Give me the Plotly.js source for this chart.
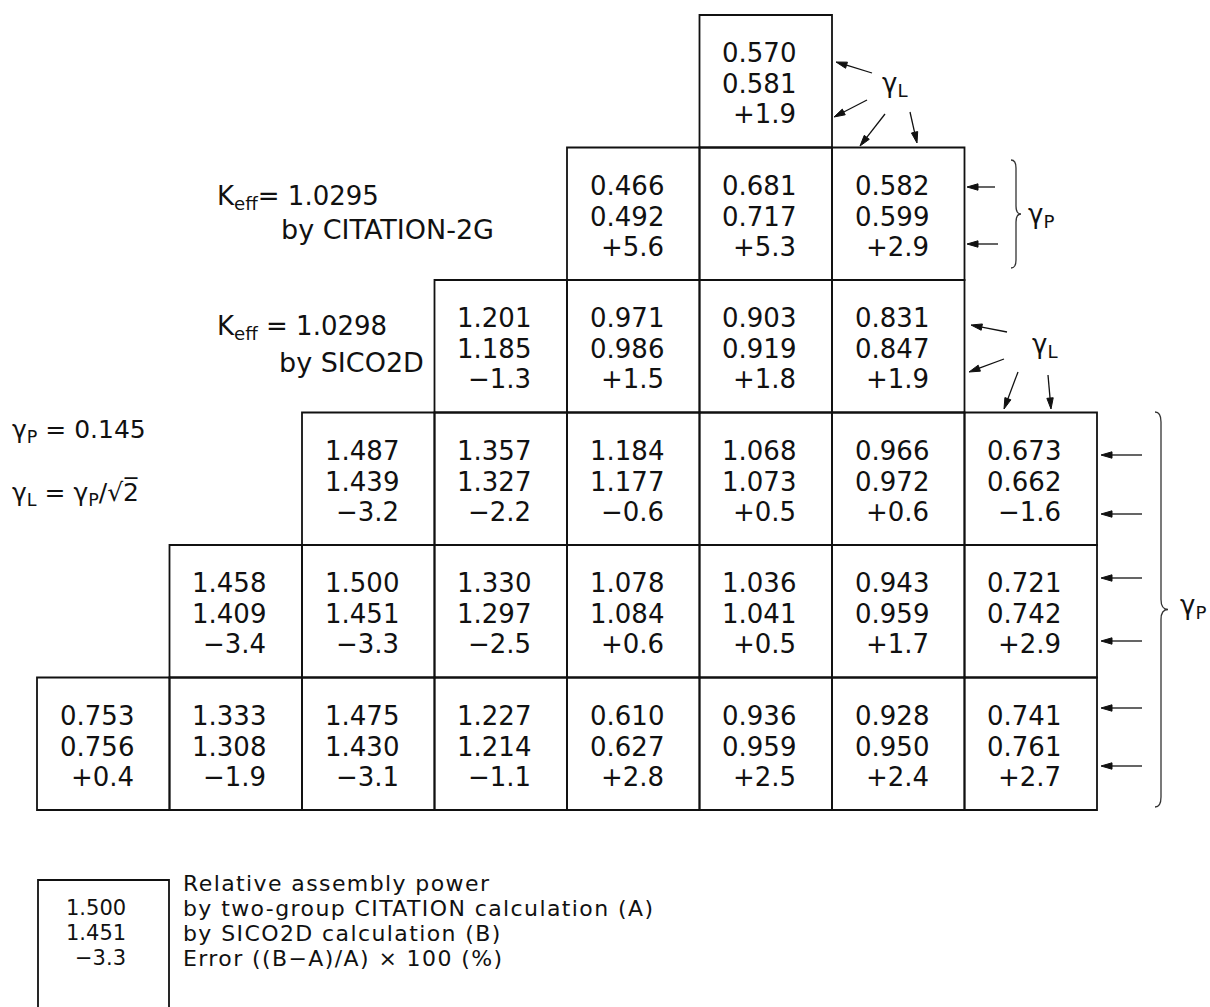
<!DOCTYPE html>
<html>
<head>
<meta charset="utf-8">
<script src="https://cdn.plot.ly/plotly-3.0.1.min.js"></script>
<style>html,body{margin:0;padding:0;background:#fff;}#chart{width:1210px;height:1007px;}</style>
</head>
<body>
<div id="chart"></div>
<script>
// ---------- data ----------
// first column occupied by each row of the quarter-core map (row 0 = top)
const rowStartCol = [5, 4, 3, 2, 1, 0];
// relative assembly power by two-group CITATION (A)
const citation = [
  [0.570],
  [0.466, 0.681, 0.582],
  [1.201, 0.971, 0.903, 0.831],
  [1.487, 1.357, 1.184, 1.068, 0.966, 0.673],
  [1.458, 1.500, 1.330, 1.078, 1.036, 0.943, 0.721],
  [0.753, 1.333, 1.475, 1.227, 0.610, 0.936, 0.928, 0.741]
];
// relative assembly power by SICO2D (B)
const sico2d = [
  [0.581],
  [0.492, 0.717, 0.599],
  [1.185, 0.986, 0.919, 0.847],
  [1.439, 1.327, 1.177, 1.073, 0.972, 0.662],
  [1.409, 1.451, 1.297, 1.084, 1.041, 0.959, 0.742],
  [0.756, 1.308, 1.430, 1.214, 0.627, 0.959, 0.950, 0.761]
];
// error ((B-A)/A) x 100 (%)
const errorPct = [
  [1.9],
  [5.6, 5.3, 2.9],
  [-1.3, 1.5, 1.8, 1.9],
  [-3.2, -2.2, -0.6, 0.5, 0.6, -1.6],
  [-3.4, -3.3, -2.5, 0.6, 0.5, 1.7, 2.9],
  [0.4, -1.9, -3.1, -1.1, 2.8, 2.5, 2.4, 2.7]
];
const keffCitation = 1.0295;
const keffSico = 1.0298;
const gammaP = 0.145;
const legendValues = [1.500, 1.451, -3.3];
const legendLines = [
  "Relative assembly power",
  "by two-group CITATION calculation (A)",
  "by SICO2D calculation (B)",
  "Error ((B\u2212A)/A) \u00d7 100 (%)"
];

// ---------- layout helpers ----------
const W = 1210, H = 1007;
const gridLeft = 37, gridTop = 15, cell = 132.5;
const lineOff = [38, 69, 99];
const rightPad = 34;
const FONT = 'DejaVu Sans';
const INK = '#111';
const cellX = c => gridLeft + c * cell;
const cellY = r => gridTop + r * cell;
const fmtErr = v => (v < 0 ? '\u2212' : '+') + Math.abs(v).toFixed(1);

const shapes = [];
const annotations = [];

function txt(x, y, text, size, xanchor, extra) {
  annotations.push(Object.assign({
    x: x, y: y, xref: 'x', yref: 'y', text: text, showarrow: false,
    xanchor: xanchor || 'left', yanchor: 'middle',
    font: {family: FONT, size: size, color: INK}
  }, extra || {}));
}
// pointer arrow: thin shaft plus a filled narrow head
function arrow(tx, ty, hx, hy) {
  const dx = hx - tx, dy = hy - ty, L = Math.hypot(dx, dy);
  const ux = dx / L, uy = dy / L, hl = 11, hw = 3.2;
  const bx = hx - ux * hl, by = hy - uy * hl;
  shapes.push({type: 'line', xref: 'x', yref: 'y', x0: tx, y0: ty, x1: bx, y1: by,
               line: {color: INK, width: 1.3}});
  const p = `M ${hx} ${hy} L ${bx - uy * hw} ${by + ux * hw} L ${bx + uy * hw} ${by - ux * hw} Z`;
  shapes.push({type: 'path', path: p, xref: 'x', yref: 'y', fillcolor: INK, line: {color: INK, width: 1}});
}
function brace(xl, xc, xt, yt, yb, r) {
  const ym = (yt + yb) / 2;
  const p = `M ${xl} ${yt} Q ${xc} ${yt} ${xc} ${yt + r} L ${xc} ${ym - r} Q ${xc} ${ym} ${xt} ${ym} ` +
            `Q ${xc} ${ym} ${xc} ${ym + r} L ${xc} ${yb - r} Q ${xc} ${yb} ${xl} ${yb}`;
  shapes.push({type: 'path', path: p, xref: 'x', yref: 'y', line: {color: '#333', width: 1.3}});
}

// ---------- cells ----------
citation.forEach((row, r) => {
  row.forEach((a, i) => {
    const c = rowStartCol[r] + i;
    const x0 = cellX(c), y0 = cellY(r);
    shapes.push({type: 'rect', xref: 'x', yref: 'y', x0: x0, x1: x0 + cell, y0: y0, y1: y0 + cell,
                 line: {color: INK, width: 1.8}, fillcolor: 'rgba(0,0,0,0)'});
    const vals = [a.toFixed(3), sico2d[r][i].toFixed(3), fmtErr(errorPct[r][i])];
    vals.forEach((v, k) => txt(x0 + cell - rightPad, y0 + lineOff[k], v, 26, 'right'));
  });
});

// ---------- labels ----------
txt(215, 197, 'K<sub>eff</sub>= ' + keffCitation.toFixed(4), 26);
txt(279, 229, 'by CITATION-2G', 27);
txt(215, 327, 'K<sub>eff</sub> = ' + keffSico.toFixed(4), 26);
txt(277, 362, 'by SICO2D', 27);
txt(10, 431, '\u03b3<sub>P</sub> = ' + gammaP.toFixed(3), 25);
txt(10, 493, '\u03b3<sub>L</sub> = \u03b3<sub>P</sub>/\u221a2\u0305', 25);

// gamma_L near top cell
txt(880, 84, '\u03b3<sub>L</sub>', 26);
arrow(872, 73, 836, 62);
arrow(867, 100, 834, 117);
arrow(885, 114, 860, 146);
arrow(910, 112, 917, 143);

// gamma_P beside second row
arrow(995, 187, 967, 187);
arrow(998, 244, 967, 244);
brace(1011, 1016, 1021, 160, 268, 8);
txt(1026, 215, '\u03b3<sub>P</sub>', 26);

// gamma_L beside third row
txt(1030, 345, '\u03b3<sub>L</sub>', 26);
arrow(1007, 332, 971, 325);
arrow(1004, 359, 969, 372);
arrow(1018, 372, 1004, 409);
arrow(1048, 375, 1051, 409);

// gamma_P beside lower rows
[455, 514, 578, 641, 708, 766].forEach(y => arrow(1142, y, 1101, y));
brace(1155, 1161, 1168, 412, 807, 10);
txt(1178, 606, '\u03b3<sub>P</sub>', 26);

// ---------- legend ----------
shapes.push({type: 'rect', xref: 'x', yref: 'y', x0: 38, x1: 169, y0: 880, y1: 1030,
             line: {color: INK, width: 1.8}, fillcolor: 'rgba(0,0,0,0)'});
const legY = [883, 908, 933, 958];
legendValues.forEach((v, k) => {
  const t = k < 2 ? v.toFixed(3) : fmtErr(v);
  txt(128, legY[k + 1], t, 21, 'right');
});
legendLines.forEach((t, k) =>
  txt(181, legY[k], '<span style="letter-spacing:1.4px">' + t + '</span>', 22));

const layout = {
  width: W, height: H,
  margin: {l: 0, r: 0, t: 0, b: 0},
  paper_bgcolor: '#fff', plot_bgcolor: '#fff',
  xaxis: {range: [0, W], visible: false, fixedrange: true},
  yaxis: {range: [H, 0], visible: false, fixedrange: true},
  shapes: shapes, annotations: annotations, showlegend: false
};
Plotly.newPlot('chart', [], layout, {staticPlot: true, displayModeBar: false});
</script>
</body>
</html>
